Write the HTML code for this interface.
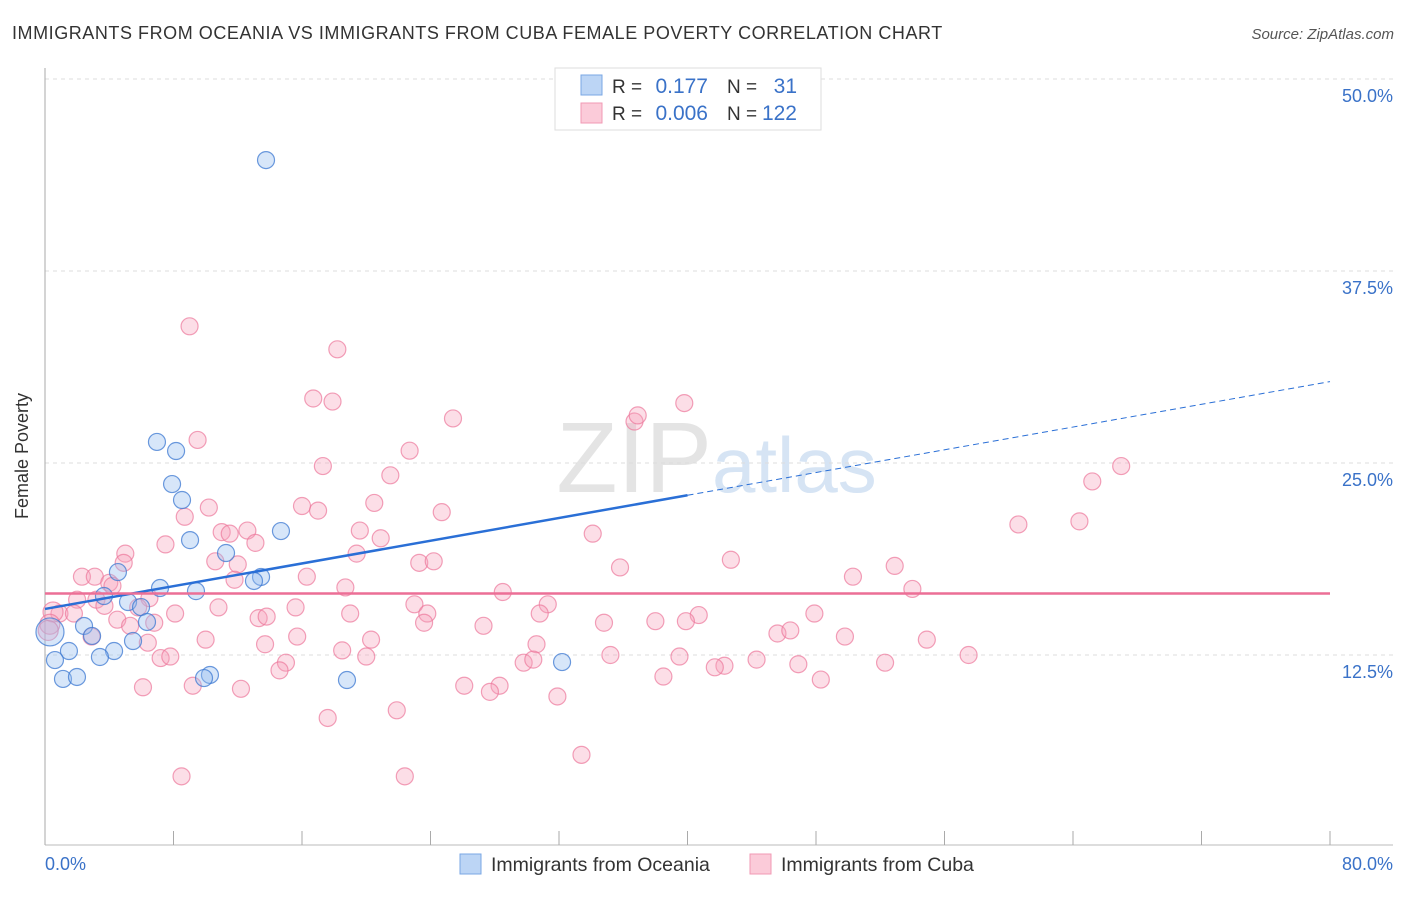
<!DOCTYPE html>
<html><head><meta charset="utf-8"><style>
body{margin:0;background:#fff;font-family:"Liberation Sans",sans-serif}
svg text{font-family:"Liberation Sans",sans-serif}
</style></head><body>
<svg width="1406" height="892" xmlns="http://www.w3.org/2000/svg">
<text x="12" y="39" font-size="18" fill="#333" letter-spacing="0.55">IMMIGRANTS FROM OCEANIA VS IMMIGRANTS FROM CUBA FEMALE POVERTY CORRELATION CHART</text>
<text x="1394" y="39" font-size="15" fill="#555" text-anchor="end" font-style="italic">Source: ZipAtlas.com</text>
<text x="712" y="492" font-size="100" fill="#e4e4e4" text-anchor="end" font-family="Liberation Serif">ZIP</text>
<text x="712" y="492" font-size="78" fill="#d6e4f4">atlas</text>
<g id="grid"></g><g id="axes"></g><g id="pts"></g><g id="lines"></g>
<text x="28" y="456" font-size="18" fill="#333" text-anchor="middle" transform="rotate(-90 28 456)">Female Poverty</text>
<text x="45" y="870" font-size="18" fill="#3a72c8">0.0%</text>
<text x="1393" y="870" font-size="18" fill="#3a72c8" text-anchor="end">80.0%</text>
<g>
<rect x="555" y="68" width="266" height="62" fill="#fff" stroke="#ddd"/>
<rect x="581" y="75" width="21" height="20" fill="#bcd5f5" stroke="#7aa7e4"/>
<rect x="581" y="103" width="21" height="20" fill="#fbcbd9" stroke="#f09ab4"/>
<text x="612" y="93" font-size="19" fill="#333">R = </text><text x="708" y="93" font-size="21" fill="#3a72c8" text-anchor="end">0.177</text>
<text x="727" y="93" font-size="19" fill="#333">N = </text><text x="797" y="93" font-size="21" fill="#3a72c8" text-anchor="end">31</text>
<text x="612" y="120" font-size="19" fill="#333">R = </text><text x="708" y="120" font-size="21" fill="#3a72c8" text-anchor="end">0.006</text>
<text x="727" y="120" font-size="19" fill="#333">N = </text><text x="797" y="120" font-size="21" fill="#3a72c8" text-anchor="end">122</text>
</g>
<g>
<rect x="460" y="854" width="21" height="20" fill="#bcd5f5" stroke="#7aa7e4"/>
<text x="491" y="871" font-size="19.5" fill="#333">Immigrants from Oceania</text>
<rect x="750" y="854" width="21" height="20" fill="#fbcbd9" stroke="#f09ab4"/>
<text x="781" y="871" font-size="19.5" fill="#333">Immigrants from Cuba</text>
</g>
</svg>
<script>
const yTicks=[12.5,25,37.5,50];
const yTickLabels=["12.5%","25.0%","37.5%","50.0%"];
const xTicks=[0,8,16,24,32,40,48,56,64,72,80];
const oceaniaX=[13.76,6.97,8.16,7.91,8.53,9.03,14.69,11.27,4.54,13.45,13.01,7.16,9.40,3.67,5.17,5.98,6.35,2.43,2.93,5.48,4.30,1.49,0.62,3.42,32.19,10.27,9.90,1.12,1.99,18.80,0.31];
const oceaniaY=[44.72,26.37,25.78,23.63,22.59,19.98,20.57,19.14,17.90,17.58,17.32,16.86,16.66,16.34,15.95,15.62,14.65,14.39,13.74,13.41,12.76,12.76,12.17,12.37,12.04,11.20,11.00,10.94,11.07,10.87,14.00];
const cubaX=[9.0,18.2,16.7,17.9,25.4,36.7,36.9,39.8,9.5,22.7,17.3,21.5,67.0,65.2,10.2,8.7,16.0,17.0,20.5,24.7,19.6,20.9,11.0,11.5,12.6,13.1,7.5,5.0,4.9,19.4,10.6,12.0,34.1,42.7,23.3,24.2,35.8,60.6,64.4,52.9,50.3,2.3,3.1,11.8,16.3,4.0,4.2,18.7,28.5,54.0,2.0,3.2,6.5,3.7,5.8,23.0,31.3,0.9,1.8,8.1,10.8,15.6,19.0,23.8,30.8,40.7,47.9,4.5,5.3,6.8,13.3,13.8,23.6,34.8,38.0,39.9,27.3,45.6,46.4,49.8,54.9,2.9,10.0,15.7,20.3,30.6,13.7,6.4,18.5,20.0,7.2,7.8,35.2,39.5,44.3,57.5,15.0,14.6,29.8,30.4,42.3,41.7,46.9,52.3,38.5,48.3,26.1,28.3,27.7,6.1,9.2,12.2,31.9,21.9,17.6,33.4,8.5,22.4,0.5,0.3,0.2];
const cubaY=[33.9,32.4,29.2,29.0,27.9,27.7,28.1,28.9,26.5,25.8,24.8,24.2,24.8,23.8,22.1,21.5,22.2,21.9,22.4,21.8,20.6,20.1,20.5,20.4,20.6,19.8,19.7,19.1,18.5,19.1,18.6,18.4,20.4,18.7,18.5,18.6,18.2,21.0,21.2,18.3,17.6,17.6,17.6,17.4,17.6,17.2,17.0,16.9,16.6,16.8,16.1,16.1,16.2,15.7,15.6,15.8,15.8,15.2,15.2,15.2,15.6,15.6,15.2,15.2,15.2,15.1,15.2,14.8,14.4,14.6,14.9,15.0,14.6,14.6,14.7,14.7,14.4,13.9,14.1,13.7,13.5,13.7,13.5,13.7,13.5,13.2,13.2,13.3,12.8,12.4,12.3,12.4,12.5,12.4,12.2,12.5,12.0,11.5,12.0,12.2,11.8,11.7,11.9,12.0,11.1,10.9,10.5,10.5,10.1,10.4,10.5,10.3,9.8,8.9,8.4,6.0,4.6,4.6,15.3,14.5,14.1];
const oceaniaTrend=[15.5,22.9,30.3]; // at x=0,40,80
const cubaTrend=[16.5,16.5];
const NS="http://www.w3.org/2000/svg";
const X=v=>45+v*(1285/80), Y=v=>847-v*15.36;
function mk(t,a,p){const e=document.createElementNS(NS,t);for(const k in a)e.setAttribute(k,a[k]);document.getElementById(p).appendChild(e);return e;}
yTicks.forEach((t,i)=>{
 const l=mk('line',{x1:45,x2:1393,y1:Y(t),y2:Y(t),stroke:'#ddd','stroke-dasharray':'4,4'},'grid');
 
 
 const tx=mk('text',{x:1393,y:Y(t)+23,'font-size':18,fill:'#3a72c8','text-anchor':'end'},'grid');tx.textContent=yTickLabels[i];
 
 
});
const ax=mk('line',{x1:45,x2:45,y1:68,y2:845,stroke:'#aaa'},'axes');


const bx=mk('line',{x1:45,x2:1393,y1:845,y2:845,stroke:'#bbb'},'axes');


xTicks.forEach(t=>{const l=mk('line',{x1:X(t),x2:X(t),y1:831,y2:845,stroke:'#aaa'},'axes');
 
 });
cubaX.forEach((x,i)=>{const c=mk('circle',{cx:X(x),cy:Y(cubaY[i]),r:i>=cubaX.length-3?10:8.5,fill:'rgba(246,160,186,0.35)',stroke:'rgba(236,120,155,0.7)','stroke-width':1.2},'pts');
 
 });
oceaniaX.forEach((x,i)=>{const c=mk('circle',{cx:X(x),cy:Y(oceaniaY[i]),r:i==oceaniaX.length-1?14:8.5,fill:'rgba(150,190,240,0.38)',stroke:'rgba(60,120,210,0.75)','stroke-width':1.2},'pts');
 
 });
const l1=mk('line',{x1:X(0),y1:Y(oceaniaTrend[0]),x2:X(40),y2:Y(oceaniaTrend[1]),stroke:'#2a6fd6','stroke-width':2.5},'lines');


const l2=mk('line',{x1:X(40),y1:Y(oceaniaTrend[1]),x2:X(80),y2:Y(oceaniaTrend[2]),stroke:'#2a6fd6','stroke-width':1,'stroke-dasharray':'6,4'},'lines');


const l3=mk('line',{x1:X(0),y1:Y(cubaTrend[0]),x2:X(80),y2:Y(cubaTrend[1]),stroke:'#ec6f96','stroke-width':2.5},'lines');


</script>
</body></html>
